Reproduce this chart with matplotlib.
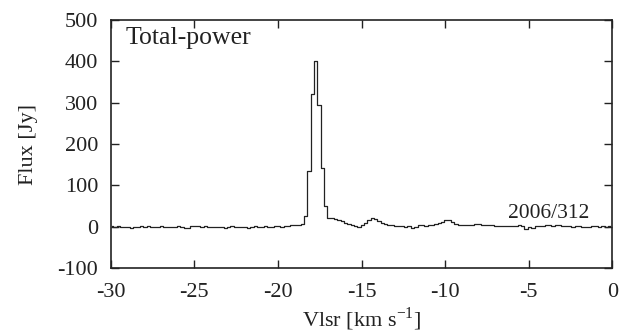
import numpy as np
import matplotlib
matplotlib.use("Agg")
import matplotlib.pyplot as plt

plt.rcParams['font.family'] = ['Liberation Serif', 'DejaVu Serif']
plt.rcParams['axes.unicode_minus'] = False

# channel centres (km/s), 0.2 km/s spacing
v_start = -29.95
v_step = 0.2
flux = [
    # -29.95 .. -28.15
    1, 0, 1, 0, -1, 0, -2, -1, 0, 1,
    # -27.95 .. -26.15
    0, 1, 0, -1, 0, 1, 0, 0, -1, 0,
    # -25.95 .. -24.15
    1, 0, -2, -3, 1, 2, 1, 0, 1, 0,
    # -23.95 .. -22.15
    -1, 0, -1, 0, -2, 0, 1, 0, -1, 0,
    # -21.95 .. -20.15
    0, -2, -1, 1, 0, -1, 1, 0, 0, 1,
    # -19.95 .. -18.15
    1, 0, 2, 2, 3, 4, 5, 6, 25, 134,
    # -17.95 .. -16.15
    320, 402, 295, 143, 49, 22, 21, 19, 15, 13,
    # -15.95 .. -14.15
    10, 7, 4, 1, 0, 3, 10, 17, 22, 18,
    # -13.95 .. -12.15
    13, 9, 7, 5, 4, 2, 1, 1, 0, 1,
    # -11.95 .. -10.15
    -2, -1, 3, 3, 2, 3, 5, 7, 9, 12,
    # -9.95 .. -8.15
    15, 17, 12, 6, 4, 3, 4, 3, 5, 7,
    # -7.95 .. -6.15
    6, 5, 4, 3, 3, 2, 2, 1, 2, 1,
    # -5.95 .. -4.15
    2, 1, 3, 1, -6, 0, -3, 1, 2, 2,
    # -3.95 .. -2.15
    3, 3, 2, 4, 3, 2, 1, 2, 0, 1,
    # -1.95 .. -0.15
    1, 0, -1, 0, 1, 1, 0, 1, 0, 1,
]
velocity = [v_start + v_step * i for i in range(len(flux))]

x_ticks = [-30, -25, -20, -15, -10, -5, 0]
x_labels = ['-30', '-25', '-20', '-15', '-10', '-5', '0']
y_ticks = [-100, 0, 100, 200, 300, 400, 500]
y_labels = ['-100', '0', '100', '200', '300', '400', '500']

fig = plt.figure(figsize=(6.26, 3.35), dpi=100)
ax = fig.add_axes([0.177, 0.200, 0.801, 0.740])
ax.step(velocity, flux, where='mid', color='#222222', lw=0.9)
ax.set_xlim(-30, 0)
ax.set_ylim(-100, 500)
ax.set_xticks(x_ticks)
ax.set_xticklabels(x_labels)
ax.set_yticks(y_ticks)
ax.set_yticklabels(y_labels)
ax.tick_params(direction='in', top=True, right=True, length=6, width=1,
               labelsize=16, pad=9, colors='#222222')
ax.tick_params(axis='x', pad=11)
for s in ax.spines.values():
    s.set_linewidth(1.2)
    s.set_color('#222222')
ax.set_xlabel('Vlsr [km s$^{\\mathregular{-1}}$]', fontsize=16, color='#222222', labelpad=2)
ax.set_ylabel('Flux [Jy]', fontsize=16, color='#222222', labelpad=14)
ax.text(-29.1, 443, 'Total-power', fontsize=18.5, color='#222222', ha='left', va='baseline')
ax.text(-1.35, 22, '2006/312', fontsize=15.5, color='#222222', ha='right', va='baseline')

fig.savefig('out.png', dpi=100)
